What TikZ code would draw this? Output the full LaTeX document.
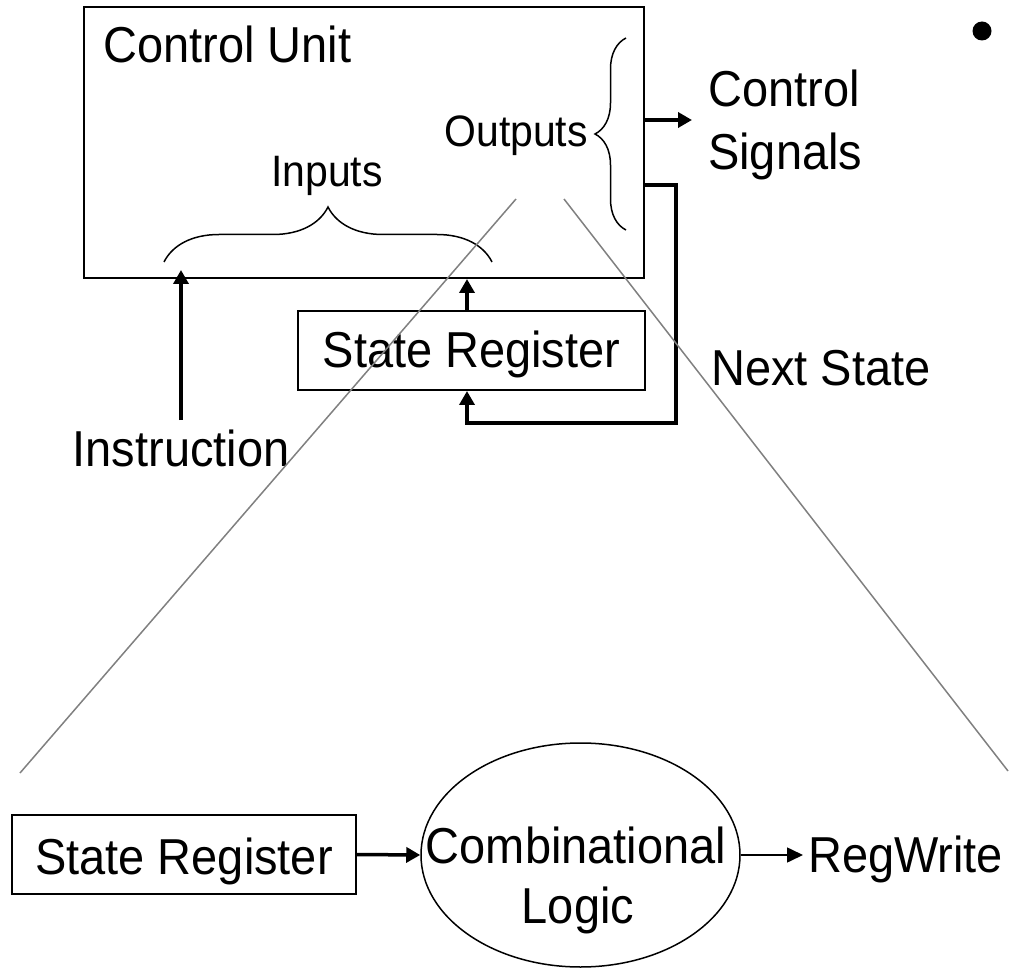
\documentclass[tikz,border=0pt]{standalone}
\usepackage{fontspec}
\setmainfont{Liberation Sans}[FakeStretch=0.93]
\usetikzlibrary{arrows.meta,decorations.pathreplacing,shapes.geometric}
\begin{document}
\begin{tikzpicture}[x=1pt,y=-1pt,
  big/.style={font=\fontsize{50.5}{60}\selectfont, inner sep=0pt},
  small/.style={font=\fontsize{44}{52}\selectfont, inner sep=0pt},
  boxx/.style={draw, line width=2pt, inner sep=0pt},
  thickarrow/.style={line width=3.5pt, -{Triangle[length=14pt,width=15pt]}},
  thinarrow/.style={line width=1.6pt, -{Triangle[length=16pt,width=15pt]}},
  bracestyle/.style={line width=1.5pt, decorate, decoration={brace, amplitude=#1}},
  zoomline/.style={draw=gray, line width=1.5pt}]
\useasboundingbox (0,0) rectangle (1010,968);

% ---- Control unit (top) ----
\node[boxx, minimum width=560pt, minimum height=271pt] (cu) at (364,142.5) {};
\node[big, anchor=base west] (cutitle) at (103,63) {Control Unit};
\node[small, anchor=base east] (outputs) at (588,147) {Outputs};
\node[small, anchor=base] (inputs) at (327,187) {Inputs};
\draw[bracestyle=31pt] (626,230) -- (626,38);
\draw[bracestyle=55pt] (164,262) -- (492,262);

\node[boxx, big, minimum width=347pt, minimum height=79pt, text height=34pt, text depth=0pt] (sr1) at (471.5,350.5) {State Register};
\node[big, anchor=base] (instr) at (181,466) {Instruction};
\node[big, anchor=base west] (ctrl) at (708,107) {Control};
\node[big, anchor=base west] (sig) at (708,170) {Signals};
\node[big, anchor=base west] (next) at (711,385) {Next State};
\node[circle, fill=black, minimum size=19pt, inner sep=0pt] (bullet) at (982,31) {};

\coordinate (srin) at (467,0);
\coordinate (cs) at (692,120);
\coordinate (ns) at (676,185);
\coordinate (loopb) at (676,423);

\draw[thickarrow] ([yshift=9pt]instr.north) -- ([yshift=9pt]instr.north |- cu.south);
\draw[thickarrow] (srin |- sr1.north) -- (srin |- cu.south);
\draw[thickarrow] (cs -| cu.east) -- (cs);
\draw[thickarrow] (ns -| cu.east) -- (ns) -- (loopb) -- (loopb -| srin) -- (srin |- sr1.south);

% ---- Expanded view (bottom) ----
\node[boxx, big, minimum width=344pt, minimum height=79pt, text height=40pt, text depth=0pt] (sr2) at (184,854.5) {State Register};
\node[draw, ellipse, line width=1.5pt, minimum width=319pt, minimum height=224pt, inner sep=0pt] (cl) at (580.5,855) {};
\node[big, anchor=base] (cl1) at (576,863) {Combinational};
\node[big, anchor=base] (cl2) at (578,923) {Logic};
\node[big, anchor=base west] (rw) at (808,872) {RegWrite};

\draw[thickarrow] (sr2.east) -- (cl.west);
\draw[thinarrow] (cl.east) -- ([xshift=-5pt]cl.east -| rw.west);

% ---- zoom lines ----
\coordinate (zl1a) at (516,199);
\coordinate (zl1b) at (20,773);
\coordinate (zl2a) at (564,199);
\coordinate (zl2b) at (1008,771);
\draw[zoomline] (zl1a) -- (zl1b);
\draw[zoomline] (zl2a) -- (zl2b);
\end{tikzpicture}
\end{document}
